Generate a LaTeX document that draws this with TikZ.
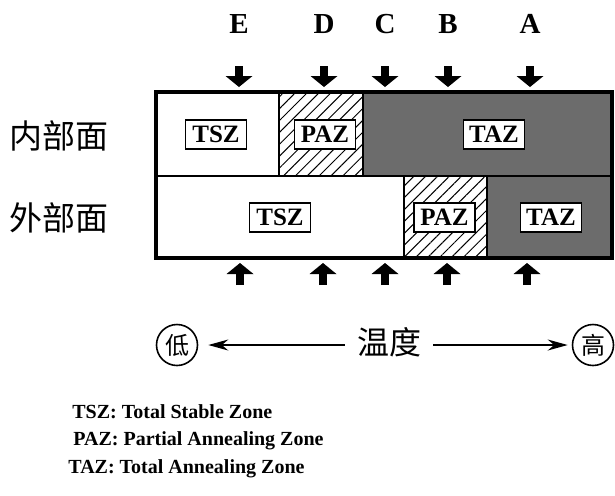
\documentclass[tikz,border=0pt]{standalone}
\usepackage{fontspec}
\setmainfont{Liberation Serif}
\newfontfamily\cjk{Noto Sans CJK SC}
\usetikzlibrary{arrows.meta,patterns.meta}
\definecolor{tazgray}{RGB}{108,108,108}
\begin{document}
\begin{tikzpicture}[x=0.5pt,y=-0.5pt,
  letter/.style={font=\bfseries\fontsize{14.5pt}{14.5pt}\selectfont,inner sep=0pt},
  zonelabel/.style={draw=black,fill=white,line width=0.6pt,inner sep=0pt,minimum width=30.5pt,minimum height=14.5pt,font=\bfseries\fontsize{12.5pt}{12.5pt}\selectfont},
  face/.style={font=\cjk\fontsize{16.5pt}{16.5pt}\selectfont,inner sep=0pt},
  blockarrow/.style={line width=3.8pt,-{Triangle[width=13.5pt,length=5.5pt,line width=0pt]}},
  ring/.style={circle,draw=black,line width=0.8pt,minimum size=20.5pt,inner sep=0pt,font=\cjk\fontsize{12pt}{12pt}\selectfont},
  thinarrow/.style={line width=0.8pt,-{Stealth[length=10pt,width=5.5pt]}},
  legend/.style={anchor=base west,inner sep=0pt,font=\bfseries\fontsize{10pt}{10pt}\selectfont},
  hatch/.style={pattern={Lines[angle=45,distance=4.2pt,line width=0.5pt]},pattern color=black},
  divider/.style={line width=1.2pt},
]
\useasboundingbox (0,0) rectangle (615,495);

% cells
\fill[white] (156,92) rectangle (279,176);
\fill[hatch] (279,92) rectangle (363,176);
\fill[tazgray] (363,92) rectangle (612,176);
\fill[white] (156,176) rectangle (404,258);
\fill[hatch] (404,176) rectangle (487,258);
\fill[tazgray] (487,176) rectangle (612,258);
\draw[divider] (279,92) -- (279,176);
\draw[divider] (363,92) -- (363,176);
\draw[divider] (404,176) -- (404,258);
\draw[divider] (487,176) -- (487,258);
\draw[divider] (156,176) -- (612,176);
\draw[line width=1.6pt] (156,92) rectangle (612,258);

% zone labels
\node[zonelabel] (tsz1) at (216,134.5) {TSZ};
\node[zonelabel] (paz1) at (325,134.5) {PAZ};
\node[zonelabel] (taz1) at (494,134.5) {TAZ};
\node[zonelabel] (tsz2) at (280,217.5) {TSZ};
\node[zonelabel] (paz2) at (444.5,217.5) {PAZ};
\node[zonelabel] (taz2) at (551,217.5) {TAZ};

% side labels
\node[face] (inner) at (59,136) {内部面};
\node[face] (outer) at (59,218) {外部面};

% letters and arrows
\foreach \n/\x in {E/239,D/324,C/385,B/448,A/530}{
  \node[letter] (l\n) at (\x,24) {\n};
  \coordinate (ts\n) at (\x,66);
  \coordinate (te\n) at (\x,87);
  \draw[blockarrow] (ts\n) -- (te\n);
}
\foreach \n/\x in {E/240,D/323,C/385,B/447,A/527}{
  \coordinate (bs\n) at (\x,285);
  \coordinate (be\n) at (\x,263);
  \draw[blockarrow] (bs\n) -- (be\n);
}

% temperature axis
\node[ring] (low) at (177,345) {低};
\node[ring] (high) at (593,345) {高};
\node[font=\cjk\fontsize{16pt}{16pt}\selectfont,inner sep=0pt] (temp) at (389,342) {温度};
\draw[thinarrow,shorten <=6pt,shorten >=5pt] (temp.west |- low) -- (low);
\draw[thinarrow,shorten <=6pt,shorten >=2pt] (temp.east |- high) -- (high);

% legend
\node[legend] (leg1) at (72,418) {TSZ: Total Stable Zone};
\node[legend] (leg2) at (73,445) {PAZ: Partial Annealing Zone};
\node[legend] (leg3) at (68,473) {TAZ: Total Annealing Zone};
\end{tikzpicture}
\end{document}
